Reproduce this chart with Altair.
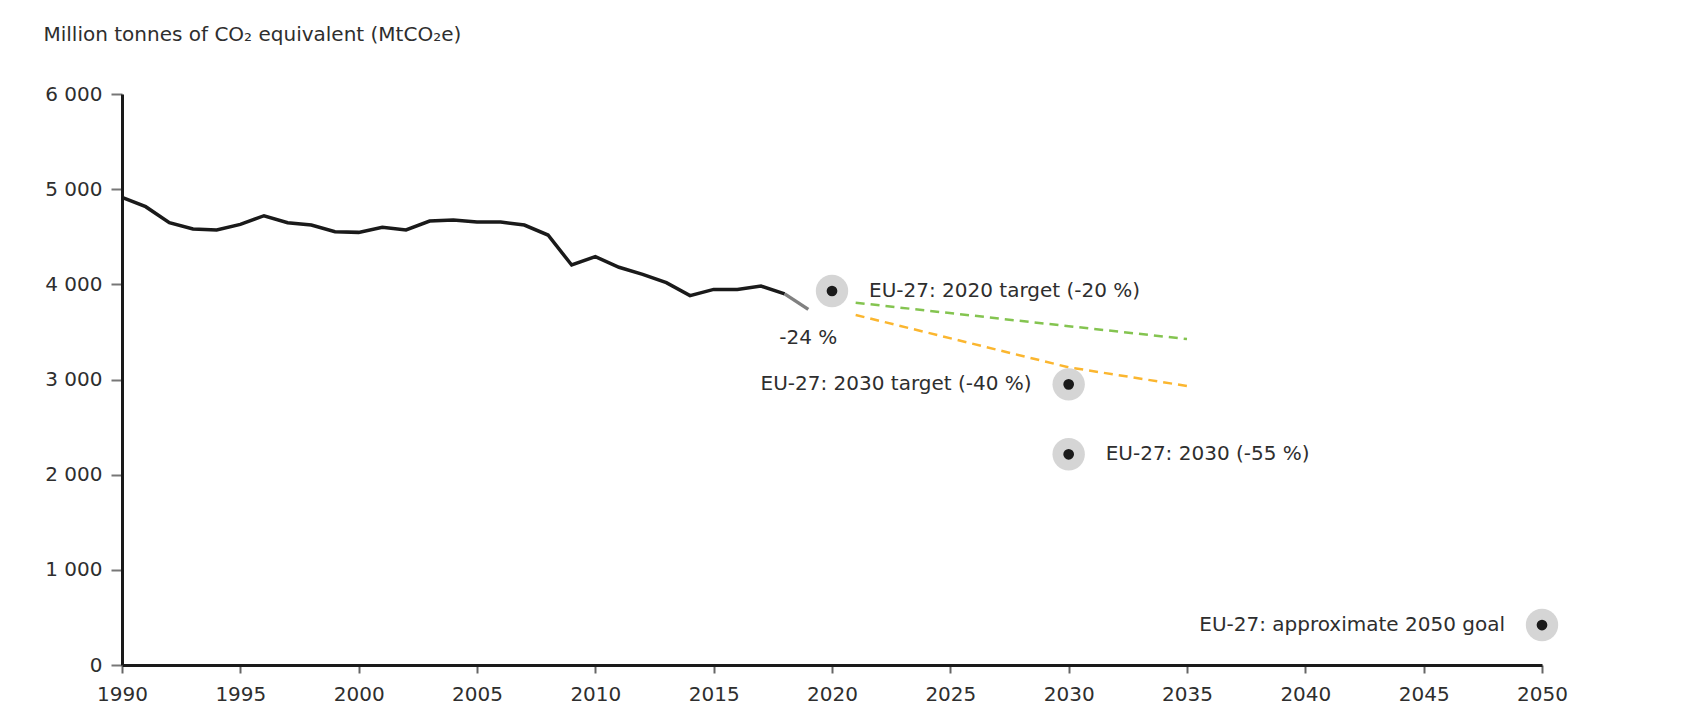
import altair as alt
import pandas as pd

# ---- data ----
hist_years = list(range(1990, 2019))
hist_values = [4914, 4816, 4648, 4581, 4571, 4630, 4721, 4648, 4623, 4553,
               4546, 4599, 4571, 4665, 4676, 4655, 4655, 4623, 4518, 4203,
               4291, 4179, 4105, 4017, 3881, 3947, 3947, 3982, 3900]
proxy_years = [2018, 2019]
proxy_values = [3900, 3737]

wem_years = [2021, 2030, 2035]
wem_values = [3807, 3560, 3425]
wam_years = [2021, 2030, 2035]
wam_values = [3678, 3128, 2932]

target_years = [2020, 2030, 2030, 2050]
target_values = [3930, 2949, 2214, 420]
target_labels = ["EU-27: 2020 target (-20 %)", "EU-27: 2030 target (-40 %)",
                 "EU-27: 2030 (-55 %)", "EU-27: approximate 2050 goal"]
target_side = ["right", "left", "right", "left"]

change_label = "-24 %"
y_ticks = [0, 1000, 2000, 3000, 4000, 5000, 6000]
x_ticks = list(range(1990, 2051, 5))
y_title = "Million tonnes of CO\u2082 equivalent (MtCO\u2082e)"

FONT = "DejaVu Sans"
FS = 20
TXT = "#2e2e2e"

hist = pd.DataFrame({"year": hist_years, "value": hist_values})
proxy = pd.DataFrame({"year": proxy_years, "value": proxy_values})
proj = pd.DataFrame({
    "year": wem_years + wam_years,
    "value": wem_values + wam_values,
    "scenario": ["wem"] * len(wem_years) + ["wam"] * len(wam_years),
})
targets = pd.DataFrame({"year": target_years, "value": target_values,
                        "label": target_labels, "side": target_side})
last = pd.DataFrame({"year": [proxy_years[-1]], "value": [proxy_values[-1]],
                     "label": [change_label]})

x_scale = alt.Scale(domain=[1990, 2050], nice=False, zero=False)
y_scale = alt.Scale(domain=[0, 6000], nice=False)

x_axis = alt.Axis(values=x_ticks, format="d", title=None, grid=False,
                  tickSize=8, tickWidth=2, tickColor="#666",
                  domainColor="#1a1a1a", domainWidth=3,
                  labelFont=FONT, labelFontSize=FS, labelColor=TXT,
                  labelPadding=11, labelFlush=False)
y_axis = alt.Axis(values=y_ticks, labelExpr="replace(format(datum.value, ','), ',', ' ')",
                  grid=False, tickSize=11, tickWidth=2, tickColor="#777",
                  domainColor="#1a1a1a", domainWidth=3,
                  labelFont=FONT, labelFontSize=FS, labelColor=TXT, labelPadding=9,
                  title=y_title, titleAngle=0, titleX=-79, titleY=-54,
                  titleAlign="left", titleBaseline="alphabetic",
                  titleFont=FONT, titleFontSize=FS, titleFontWeight="normal",
                  titleColor=TXT)

X = alt.X("year:Q", scale=x_scale, axis=x_axis)
Y = alt.Y("value:Q", scale=y_scale, axis=y_axis)

hist_line = alt.Chart(hist).mark_line(color="#1a1a1a", strokeWidth=3.5).encode(x=X, y=Y)
proxy_line = alt.Chart(proxy).mark_line(color="#808080", strokeWidth=3.5).encode(x="year:Q", y="value:Q")

proj_lines = alt.Chart(proj).mark_line(strokeWidth=2.5, strokeDash=[9, 6]).encode(
    x="year:Q", y="value:Q",
    color=alt.Color("scenario:N", scale=alt.Scale(domain=["wem", "wam"],
                                                  range=["#84c450", "#fbb62f"]),
                    legend=None),
    detail="scenario:N",
)

halo = alt.Chart(targets).mark_circle(size=1050, color="#d5d5d5", opacity=1).encode(
    x="year:Q", y="value:Q")
dot = alt.Chart(targets).mark_circle(size=115, color="#1a1a1a", opacity=1).encode(
    x="year:Q", y="value:Q")

lab_right = alt.Chart(targets).transform_filter("datum.side == 'right'").mark_text(
    align="left", baseline="middle", dx=37, font=FONT, fontSize=FS, color=TXT
).encode(x="year:Q", y="value:Q", text="label:N")
lab_left = alt.Chart(targets).transform_filter("datum.side == 'left'").mark_text(
    align="right", baseline="middle", dx=-37, font=FONT, fontSize=FS, color=TXT
).encode(x="year:Q", y="value:Q", text="label:N")

change_txt = alt.Chart(last).mark_text(
    align="center", baseline="middle", dy=29, font=FONT, fontSize=FS, color=TXT
).encode(x="year:Q", y="value:Q", text="label:N")

chart = alt.layer(
    hist_line, proxy_line, proj_lines, halo, dot, lab_right, lab_left, change_txt
).properties(
    width=1420, height=571,
    autosize=alt.AutoSizeParams(type="none"),
    padding={"left": 114, "top": 86, "right": 146, "bottom": 54},
    background="white",
).configure_view(stroke=None)

chart.save("out.html", embed_options={"renderer": "svg", "actions": False})
